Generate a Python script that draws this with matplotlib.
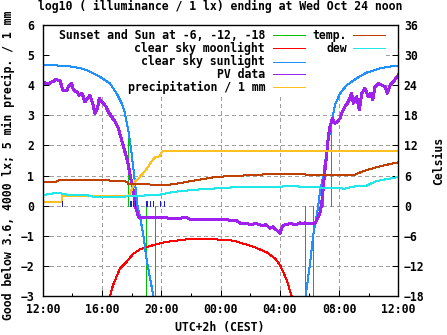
import matplotlib
matplotlib.use('Agg')
import matplotlib.pyplot as plt
from matplotlib.patches import Rectangle
from matplotlib.ticker import MultipleLocator

plt.rcParams['font.family'] = ['DejaVu Sans Mono']
plt.rcParams['font.weight'] = 'bold'
plt.rcParams['font.size'] = 8.3
plt.rcParams['lines.antialiased'] = False

# time axis: hours after Tue 12:00 (CEST)
hour_ticks = [0, 4, 8, 12, 16, 20, 24]
hour_labels = ['12:00', '16:00', '20:00', '00:00', '04:00', '08:00', '12:00']

# sunset / sun at -6, -12, -18 (evening) and back (morning)
sun_event_t = [5.78, 6.28, 6.99, 7.60, 17.72, 18.26, 18.89, 19.48]
sun_event_lo = [0, 0, -3, -3, -3, -3, 0, 0]
sun_event_hi = [2.65, 0.45, 0, 0, 0, 0, 0.45, 2.62]

moon_t = [4.54, 4.74, 4.99, 5.22, 5.67, 6.11, 6.57, 7.46, 8.37, 9.72, 11.07,
          12.86, 14.21, 15.12, 15.68, 16.02, 16.47, 16.80]
moon_v = [-3.0, -2.65, -2.35, -2.08, -1.86, -1.6, -1.45, -1.31, -1.2, -1.12, -1.1,
          -1.16, -1.36, -1.55, -1.75, -1.97, -2.47, -3.0]

sun_eve_t = [0, 0.8, 1.5, 2.07, 2.7, 3.19, 3.87, 4.54, 4.99, 5.33, 5.55, 5.78,
             6.01, 6.23, 6.38, 6.61, 6.79, 7.02, 7.24, 7.51]
sun_eve_v = [4.67, 4.66, 4.64, 4.61, 4.55, 4.45, 4.28, 4.06, 3.73, 3.4, 3.07, 2.5,
             1.7, 0.75, 0.05, -0.48, -0.98, -1.8, -2.4, -3.1]
sun_morn_t = [17.72, 18.04, 18.26, 18.6, 18.71, 18.94, 19.05, 19.17, 19.28, 19.39,
              19.55, 19.73, 20.07, 20.52, 21.19, 21.87, 22.77, 23.3, 24.0]
sun_morn_v = [-3.1, -1.92, -0.98, 0.0, 0.45, 1.0, 1.45, 1.74, 2.2, 2.45,
              2.9, 3.35, 3.73, 4.0, 4.23, 4.42, 4.56, 4.61, 4.65]

pv_t = [0.00, 0.16, 0.38, 0.56, 0.72, 0.90, 1.03, 1.17, 1.35, 1.62, 1.74, 1.84,
        1.96, 2.07, 2.29, 2.47, 2.63, 2.74, 2.85, 3.01, 3.19, 3.37, 3.53, 3.69,
        3.82, 3.98, 4.09, 4.27, 4.43, 4.66, 4.88, 5.10, 5.33, 5.55, 5.71, 5.84,
        6.01, 6.18, 6.23, 6.34, 6.45, 6.57, 7.02, 7.92, 8.93, 9.74, 9.94, 10.61,
        11.29, 11.97, 12.64, 13.09, 13.43, 13.65, 13.99, 14.44, 14.87, 15.07,
        15.34, 15.56, 15.75, 15.88, 16.02, 16.12, 16.24, 16.69, 17.14, 17.36,
        17.57, 17.70, 18.04, 18.38, 18.49, 18.71, 18.83, 18.94, 19.05, 19.17,
        19.28, 19.39, 19.55, 19.73, 19.88, 20.07, 20.18, 20.40, 20.63, 20.85,
        20.96, 21.19, 21.37, 21.53, 21.75, 21.97, 22.14, 22.27, 22.43, 22.65,
        22.88, 23.10, 23.26, 23.44, 23.66, 23.84, 24.00]
pv_v = [4.06, 4.08, 4.04, 4.1, 4.12, 4.2, 4.16, 4.15, 3.84, 3.82, 3.95, 4.0,
        4.06, 3.84, 3.78, 3.67, 3.73, 3.62, 3.45, 3.56, 3.67, 3.4, 3.07, 3.23,
        3.56, 3.45, 3.4, 3.29, 3.12, 2.95, 2.79, 2.57, 2.18, 1.79, 1.51, 1.18,
        0.74, 0.3, -0.03, -0.15, -0.37, -0.4, -0.39, -0.4, -0.42, -0.4, -0.45, -0.45,
        -0.47, -0.46, -0.48, -0.5, -0.61, -0.58, -0.62, -0.6, -0.67, -0.63,
        -0.75, -0.7, -0.8, -0.85, -0.92, -0.75, -0.65, -0.6, -0.62, -0.57,
        -0.6, -0.57, -0.6, -0.58, -0.48, -0.25, 0.08, 0.63, 1.18, 1.74,
        2.29, 2.62, 2.9, 2.73, 2.79, 2.9, 3.07, 3.29, 3.45, 3.73,
        3.4, 3.62, 3.18, 3.73, 3.9, 3.62, 3.73, 3.51, 3.95, 4.06,
        4.0, 3.95, 3.73, 4.0, 4.12, 4.23, 4.34]

precip_t = [0, 1.28, 1.31, 5.78, 5.89, 6.11, 6.23, 6.45, 6.68, 6.90, 7.13, 7.36,
            7.58, 7.92, 8.03, 8.14, 24.0]
precip_v = [0.13, 0.13, 0.31, 0.31, 0.4, 0.65, 0.8, 0.9, 1.02, 1.15, 1.3, 1.48,
            1.6, 1.65, 1.78, 1.81, 1.81]

rain_t = [0.02, 1.32, 5.86, 5.99, 6.11, 6.24, 6.95, 7.07, 7.24, 7.42, 7.92, 8.21]
rain_v = [0.1, 0.17, 0.17, 0.17, 0.17, 0.17, 0.17, 0.17, 0.17, 0.17, 0.17, 0.17]

temp_t = [0, 0.9, 1.17, 2.5, 3.87, 4.54, 5.67, 5.78, 7.02, 8.03, 8.37, 9.27,
          10.6, 11.74, 12.86, 15.12, 17.36, 18.49, 20.74, 21.0, 21.41, 21.87,
          22.77, 23.3, 24.0]
temp_c = [4.7, 4.8, 5.1, 5.2, 5.15, 5.0, 4.8, 4.35, 4.25, 4.1, 4.1, 4.5,
          5.2, 5.75, 5.9, 6.25, 6.3, 6.05, 6.05, 6.1, 6.6, 7.1,
          7.85, 8.2, 8.65]

dew_t = [0, 0.63, 0.94, 1.3, 1.62, 2.97, 3.42, 5.44, 6.11, 7.92, 8.82, 10.61,
         12.86, 15.12, 16.69, 17.36, 18.49, 19.5, 20.4, 20.96, 21.87, 22.5, 24.0]
dew_c = [2.1, 2.4, 2.6, 2.4, 2.2, 2.1, 1.8, 1.8, 1.9, 2.2, 2.75, 3.25,
         3.65, 3.65, 3.9, 3.8, 3.65, 3.5, 3.4, 3.8, 4.0, 4.9, 5.7]

c_sun_ev = '#00c000'
c_moon = '#ff0000'
c_sun = '#1e90ff'
c_pv = '#a020f0'
c_precip = '#ffc020'
c_rain = '#2020c0'
c_temp = '#c04000'
c_dew = '#20e8e8'

W, H = 447, 335
fig = plt.figure(figsize=(W / 100, H / 100), dpi=100)
ax = fig.add_axes([42.7 / W, 1 - 296 / H, 355.6 / W, 271 / H])
ax2 = ax.twinx()

px = 0.72  # one pixel in points
ax.vlines(sun_event_t, sun_event_lo, sun_event_hi, color=c_sun_ev, lw=px,
          zorder=2, antialiased=False)
ax.plot(moon_t, moon_v, color=c_moon, lw=px, zorder=2)
ax.plot(sun_eve_t, sun_eve_v, color=c_sun, lw=px, zorder=2)
ax.plot(sun_morn_t, sun_morn_v, color=c_sun, lw=px, zorder=2)
ax.plot(pv_t, pv_v, color=c_pv, lw=2 * px, zorder=2)
ax.plot(precip_t, precip_v, color=c_precip, lw=px, zorder=2)
ax.vlines(rain_t, 0, rain_v, color=c_rain, lw=px, zorder=2, antialiased=False)

ax2.plot(temp_t, temp_c, color=c_temp, lw=px)
ax2.plot(dew_t, dew_c, color=c_dew, lw=px)

ax.set_xlim(0, 24)
ax.set_ylim(-3, 6)
ax2.set_ylim(-18, 36)
ax.set_xticks(hour_ticks)
ax.set_xticklabels(hour_labels)
ax.xaxis.set_minor_locator(MultipleLocator(2))
ax.yaxis.set_major_locator(MultipleLocator(1))
ax2.yaxis.set_major_locator(MultipleLocator(6))

ax.set_axisbelow(True)
ax.grid(True, color='#a0a0a0', lw=px, linestyle=(0, (3, 4)))
ax.tick_params(axis='both', which='major', direction='in', length=4, width=px,
               top=False, right=False, pad=6)
ax.tick_params(axis='x', which='minor', direction='in', length=2.5, width=px, top=False)
ax.tick_params(axis='x', pad=5)
ax2.tick_params(axis='y', direction='in', length=4, width=px, pad=4)
for a in (ax, ax2):
    for s in a.spines.values():
        s.set_linewidth(px * 1.2)

# gnuplot style key, opaque over the grid only
ax.add_patch(Rectangle((0.0205, 0.745), 0.945, 0.25, transform=ax.transAxes,
                       facecolor='white', edgecolor='none', zorder=1))
rows_y = [0.963, 0.914, 0.865, 0.818, 0.770]
key_left = [('Sunset and Sun at -6, -12, -18', c_sun_ev),
            ('clear sky moonlight', c_moon),
            ('clear sky sunlight', c_sun),
            ('PV data', c_pv),
            ('precipitation / 1 mm', c_precip)]
key_right = [('temp.', c_temp), ('dew', c_dew)]
for (lab, col), yy in zip(key_left, rows_y):
    ax.text(0.6254, yy, lab, transform=ax.transAxes, ha='right', va='center', zorder=3)
    ax.plot([0.6485, 0.7375], [yy, yy], transform=ax.transAxes, color=col,
            lw=px, zorder=3)
for (lab, col), yy in zip(key_right, rows_y):
    ax.text(0.855, yy, lab, transform=ax.transAxes, ha='right', va='center', zorder=3)
    ax.plot([0.8735, 0.9626], [yy, yy], transform=ax.transAxes, color=col,
            lw=px, zorder=3)

fig.text(220 / W, 1 - 6.5 / H, 'log10 ( illuminance / 1 lx) ending at Wed Oct 24 noon',
         ha='center', va='center')
fig.text(8 / W, 1 - 165 / H, 'Good below 3.6, 4000 lx; 5 min precip. / 1 mm',
         rotation=90, ha='center', va='center')
fig.text(439 / W, 1 - 161 / H, 'Celsius', rotation=90, ha='center', va='center')
fig.text(220 / W, 1 - 327 / H, 'UTC+2h (CEST)', ha='center', va='center')

fig.savefig('out.png', dpi=100)
